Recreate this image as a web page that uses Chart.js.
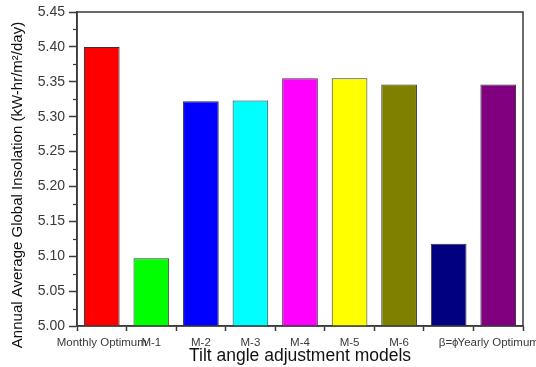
<!DOCTYPE html>
<html>
<head>
<meta charset="utf-8">
<script src="https://cdn.jsdelivr.net/npm/chart.js@4.4.1/dist/chart.umd.min.js"></script>
<style>
html,body{margin:0;padding:0;background:#fff;}
#wrap{width:536px;height:367px;}
</style>
</head>
<body>
<div id="wrap"><canvas id="c" width="536" height="367"></canvas></div>
<script>
const categories = ["Monthly Optimum","M-1","M-2","M-3","M-4","M-5","M-6","\u03B2=\u03D5","Yearly Optimum"];
const insolation = [5.400, 5.097, 5.322, 5.323, 5.355, 5.355, 5.346, 5.118, 5.346];
const barColors = ["#ff0000","#00ff00","#0000ff","#00ffff","#ff00ff","#ffff00","#808000","#000080","#800080"];
const yTicks = [5.00,5.05,5.10,5.15,5.20,5.25,5.30,5.35,5.40,5.45];
const yTitle = "Annual Average Global Insolation (kW-hr/m\u00B2/day)";
const xTitle = "Tilt angle adjustment models";

const axisColor = "#3a3a3a";
const fontFam = "Liberation Sans, Arial, sans-serif";

const framePlugin = {
  id: 'frame',
  afterDraw(chart) {
    const {ctx, chartArea:a, scales} = chart;
    ctx.save();
    ctx.strokeStyle = axisColor;
    ctx.lineWidth = 1.5;
    ctx.strokeRect(a.left, a.top, a.right - a.left, a.bottom - a.top);
    const y = scales.y;
    ctx.lineWidth = 1.2;
    for (let i = 0; i < yTicks.length - 1; i++) {
      const v = (yTicks[i] + yTicks[i+1]) / 2;
      const py = Math.round(y.getPixelForValue(v)) + 0.5;
      ctx.beginPath();
      ctx.moveTo(a.left - 4, py);
      ctx.lineTo(a.left, py);
      ctx.stroke();
    }
    // y axis title
    ctx.translate(18, 185);
    ctx.rotate(-Math.PI / 2);
    ctx.fillStyle = "#111";
    ctx.font = "15px " + fontFam;
    ctx.textAlign = "center";
    ctx.textBaseline = "middle";
    ctx.fillText(yTitle, 0, 0);
    ctx.restore();
  }
};

new Chart(document.getElementById('c'), {
  type: 'bar',
  data: {
    labels: categories,
    datasets: [{
      data: insolation,
      backgroundColor: barColors,
      borderColor: "#333333",
      borderWidth: 1,
      borderSkipped: false,
      barPercentage: 0.72,
      categoryPercentage: 1.0
    }]
  },
  options: {
    responsive: false,
    animation: false,
    devicePixelRatio: 1,
    layout: { padding: { top: 12, right: 13, left: 0, bottom: 0 } },
    plugins: { legend: { display: false }, tooltip: { enabled: false } },
    scales: {
      x: {
        grid: { display: true, drawOnChartArea: false, drawTicks: true, tickLength: 5, color: axisColor, tickWidth: 1.5 },
        border: { display: true, color: axisColor, width: 1.5 },
        ticks: {
          autoSkip: false, maxRotation: 0, minRotation: 0,
          color: "#3a3a3a", padding: 5,
          font: { family: fontFam, size: 11.5 }
        },
        title: {
          display: true, text: xTitle,
          color: "#111", padding: { top: 0, bottom: 0 },
          font: { family: fontFam, size: 17.5 }
        },
        afterFit(s) { s.height = 41; s.paddingLeft = 0; s.paddingRight = 0; }
      },
      y: {
        min: 5.00, max: 5.45,
        afterBuildTicks(s) { s.ticks = yTicks.map(v => ({ value: v })); },
        grid: { display: true, drawOnChartArea: false, drawTicks: true, tickLength: 8, color: axisColor, tickWidth: 1.5 },
        border: { display: true, color: axisColor, width: 1.5 },
        ticks: {
          color: "#3a3a3a", padding: 4,
          font: { family: fontFam, size: 14 },
          callback: v => Number(v).toFixed(2)
        },
        title: { display: false },
        afterFit(s) { s.width = 77; s.paddingTop = 0; s.paddingBottom = 0; }
      }
    }
  },
  plugins: [framePlugin]
});
</script>
</body>
</html>
